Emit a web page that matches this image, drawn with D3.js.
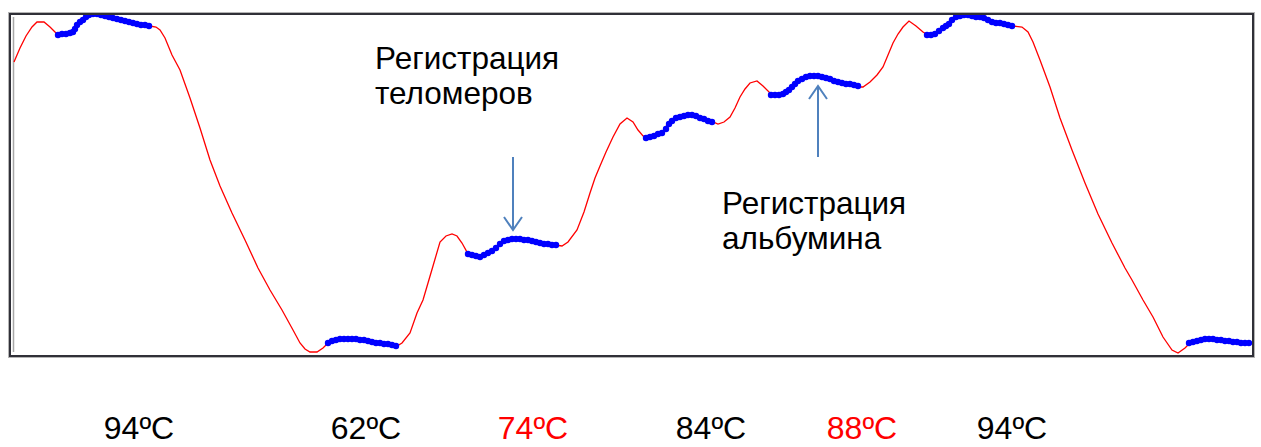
<!DOCTYPE html>
<html>
<head>
<meta charset="utf-8">
<script src="https://cdn.jsdelivr.net/npm/d3@7"></script>
<style>
  html, body { margin: 0; padding: 0; background: #fff; }
  svg { display: block; }
  text { font-family: "Liberation Sans", Arial, sans-serif; }
</style>
</head>
<body>
<svg id="chart" width="1261" height="447"></svg>
<script>
// Temperature trace of the cycle (time in s, temperature in °C)
const traceTime = [
  1, 7, 13, 19, 24, 31, 37, 45, 49, 54,
  59, 62, 64, 67, 70, 73, 77, 82, 87, 92,
  97, 102, 107, 112, 117, 122, 127, 132, 137, 143,
  147, 152, 159, 167, 177, 187, 197, 207, 219, 232,
  245, 257, 269, 280, 287, 292, 297, 304, 310, 315,
  320, 327, 337, 347, 354, 364, 374, 384, 389, 397,
  404, 410, 415, 420, 427, 433, 439, 444, 449, 454,
  457, 462, 467, 475, 480, 484, 492, 500, 510, 520,
  530, 542, 549, 555, 564, 571, 577, 582, 587, 593,
  600, 607, 614, 620, 625, 630, 635, 644, 650, 655,
  664, 674, 682, 690, 700, 705, 711, 717, 722, 727,
  732, 737, 744, 750, 757, 762, 769, 775, 784, 794,
  804, 814, 822, 834, 845, 850, 857, 864, 870, 875,
  880, 885, 890, 896, 903, 910, 915, 920, 925, 929,
  934, 940, 947, 954, 960, 967, 974, 980, 989, 995,
  1000, 1009, 1015, 1020, 1027, 1037, 1047, 1059, 1072, 1085,
  1099, 1112, 1119, 1130, 1140, 1150, 1159, 1165, 1172, 1177,
  1184, 1190, 1197, 1204, 1212, 1220, 1227, 1237
];
const traceTemp = [
  89.8, 91.2, 92.4, 93.3, 93.8, 93.8, 93.3, 92.5, 92.6, 92.7,
  92.8, 93.0, 93.5, 93.8, 94.1, 94.3, 94.5, 94.6, 94.5, 94.4,
  94.2, 94.1, 93.9, 93.8, 93.7, 93.6, 93.5, 93.4, 93.4, 93.3,
  93.0, 92.2, 90.5, 89.0, 86.2, 83.2, 80.0, 77.4, 74.7, 72.0,
  69.2, 67.0, 65.0, 63.0, 61.7, 61.1, 60.8, 60.8, 61.2, 61.7,
  61.9, 62.1, 62.1, 62.0, 61.8, 61.7, 61.6, 61.4, 61.7, 62.7,
  64.7, 66.0, 67.7, 69.4, 71.8, 72.4, 72.6, 72.4, 71.7, 70.8,
  70.5, 70.4, 70.3, 70.7, 71.0, 71.3, 71.9, 72.1, 72.0, 71.8,
  71.6, 71.5, 71.4, 71.8, 73.0, 74.8, 76.7, 78.2, 79.4, 80.8,
  82.3, 83.6, 84.2, 83.8, 83.0, 82.4, 82.3, 82.7, 82.8, 83.7,
  84.4, 84.6, 84.4, 84.0, 83.8, 83.6, 83.8, 84.3, 85.2, 86.3,
  87.1, 87.7, 87.9, 87.4, 86.7, 86.5, 86.6, 87.0, 88.0, 88.4,
  88.4, 88.2, 87.8, 87.6, 87.3, 87.3, 87.8, 88.5, 89.3, 90.5,
  91.7, 92.6, 93.3, 93.9, 93.4, 92.8, 92.5, 92.5, 92.8, 93.2,
  93.5, 94.2, 94.4, 94.5, 94.3, 94.3, 94.0, 93.7, 93.7, 93.5,
  93.4, 93.3, 92.8, 91.8, 90.0, 87.3, 84.2, 81.0, 77.7, 74.6,
  71.7, 69.2, 68.0, 66.0, 64.3, 62.3, 61.0, 60.7, 61.2, 61.7,
  61.8, 62.1, 62.1, 62.0, 61.9, 61.8, 61.7, 61.6
];

// Fluorescence acquisition points during each hold
const acq1Time = [45, 49, 53, 57, 60, 62, 64, 67, 70, 73, 76, 80, 84, 88, 92, 96, 100, 104, 108, 112, 116, 120, 124, 128, 132, 136];
const acq1Temp = [92.5, 92.6, 92.6, 92.7, 92.8, 93.1, 93.5, 93.8, 94.0, 94.3, 94.5, 94.6, 94.6, 94.5, 94.4, 94.3, 94.2, 94.1, 94.0, 93.9, 93.8, 93.7, 93.6, 93.5, 93.5, 93.4];
const acq2Time = [315, 319, 323, 327, 331, 335, 339, 343, 347, 351, 355, 359, 363, 367, 371, 375, 379, 383];
const acq2Temp = [61.7, 61.9, 62.0, 62.1, 62.1, 62.1, 62.1, 62.1, 62.0, 62.0, 61.9, 61.8, 61.7, 61.7, 61.6, 61.6, 61.5, 61.4];
const acq3Time = [455, 459, 463, 467, 471, 475, 479, 483, 487, 491, 495, 499, 503, 507, 511, 515, 519, 523, 527, 531, 535, 539, 543];
const acq3Temp = [70.6, 70.5, 70.4, 70.3, 70.5, 70.7, 70.9, 71.2, 71.6, 71.9, 72.0, 72.1, 72.1, 72.1, 72.0, 72.0, 71.9, 71.8, 71.7, 71.6, 71.6, 71.5, 71.5];
const acq4Time = [633, 637, 641, 645, 649, 653, 656, 659, 663, 667, 671, 675, 679, 683, 687, 691, 695, 699];
const acq4Temp = [82.2, 82.3, 82.4, 82.6, 82.7, 83.1, 83.6, 83.9, 84.2, 84.3, 84.4, 84.5, 84.5, 84.4, 84.2, 84.1, 83.9, 83.8];
const acq5Time = [758, 762, 766, 770, 773, 776, 779, 782, 785, 789, 793, 797, 801, 805, 809, 813, 817, 821, 825, 829, 833, 837, 841, 845];
const acq5Temp = [86.5, 86.5, 86.5, 86.6, 86.8, 87.0, 87.3, 87.6, 87.9, 88.1, 88.3, 88.4, 88.4, 88.4, 88.3, 88.2, 88.1, 87.9, 87.8, 87.7, 87.6, 87.6, 87.5, 87.4];
const acq6Time = [914, 918, 922, 926, 930, 933, 936, 939, 943, 947, 951, 955, 959, 963, 967, 971, 975, 979, 983, 987, 991, 995, 999];
const acq6Temp = [92.5, 92.5, 92.6, 92.9, 93.2, 93.4, 93.6, 94.0, 94.3, 94.4, 94.5, 94.5, 94.4, 94.3, 94.3, 94.2, 94.0, 93.8, 93.7, 93.7, 93.6, 93.5, 93.4];
const acq7Time = [1176, 1180, 1184, 1188, 1192, 1196, 1200, 1204, 1208, 1212, 1216, 1220, 1224, 1228, 1232, 1236];
const acq7Temp = [61.7, 61.8, 61.9, 62.0, 62.1, 62.1, 62.1, 62.0, 62.0, 61.9, 61.9, 61.8, 61.8, 61.7, 61.7, 61.7];

// Step temperature labels under the plot
const stepLabels = ["94ºC", "62ºC", "74ºC", "84ºC", "88ºC", "94ºC"];
const stepCentres = [139, 366, 533, 711, 862, 1012];
const stepColours = ["#000", "#000", "#ff0000", "#000", "#ff0000", "#000"];

// Annotated holds
const noteLines = [["Регистрация", "теломеров"], ["Регистрация", "альбумина"]];
const noteTime = [500, 805];

const svg = d3.select("#chart");

const x = d3.scaleLinear().domain([0, 1240]).range([13, 1253]);
const y = d3.scaleLinear().domain([96, 60]).range([0, 360]);

// Plot frame (sunken panel look)
const frame = svg.append("g");
frame.append("rect").attr("x", 8.5).attr("y", 12.5).attr("width", 1246).attr("height", 345)
  .attr("fill", "#fff").attr("stroke", "#b4b4b4").attr("stroke-width", 1);
frame.append("rect").attr("x", 10).attr("y", 14).attr("width", 1243).attr("height", 342)
  .attr("fill", "none").attr("stroke", "#303038").attr("stroke-width", 2);
frame.append("line").attr("x1", 13.5).attr("x2", 13.5).attr("y1", 17).attr("y2", 352)
  .attr("stroke", "#a8a8a8").attr("stroke-width", 1.5);

const plot = svg.append("g");
plot.append("clipPath").attr("id", "clip")
  .append("rect").attr("x", 11).attr("y", 15).attr("width", 1241).attr("height", 340);

const trace = traceTime.map((t, i) => [t, traceTemp[i]]);
plot.append("path")
  .attr("clip-path", "url(#clip)")
  .attr("d", d3.line().x(d => x(d[0])).y(d => y(d[1]))(trace))
  .attr("fill", "none").attr("stroke", "#ff0000").attr("stroke-width", 1.3);

const acq = [
  [acq1Time, acq1Temp], [acq2Time, acq2Temp], [acq3Time, acq3Temp], [acq4Time, acq4Temp],
  [acq5Time, acq5Temp], [acq6Time, acq6Temp], [acq7Time, acq7Temp]
].flatMap(([ts, vs]) => ts.map((t, i) => [t, vs[i]]));

plot.append("g").attr("clip-path", "url(#clip)")
  .selectAll("circle").data(acq).join("circle")
  .attr("cx", d => x(d[0])).attr("cy", d => y(d[1])).attr("r", 3.2)
  .attr("fill", "#0000ff");

// Annotations with arrows
const arrowColour = "#4f81bd";
function arrow(x0, y0, y1) {
  const dir = Math.sign(y1 - y0);
  const g = svg.append("g").attr("stroke", arrowColour).attr("stroke-width", 2).attr("fill", "none");
  g.append("line").attr("x1", x0).attr("x2", x0).attr("y1", y0).attr("y2", y1);
  g.append("path").attr("d", `M${x0 - 9},${y1 - dir * 13}L${x0},${y1}L${x0 + 9},${y1 - dir * 13}`);
}
arrow(x(noteTime[0]), 157, 230);
arrow(x(noteTime[1]), 157, 86);

const notePos = [[375, 69], [722, 214]];
noteLines.forEach((lines, k) => {
  const t = svg.append("text").attr("x", notePos[k][0]).attr("y", notePos[k][1])
    .attr("font-size", 31.5).attr("fill", "#000");
  lines.forEach((s, i) => t.append("tspan").attr("x", notePos[k][0]).attr("dy", i ? 35 : 0).text(s));
});

svg.selectAll("text.step").data(stepLabels).join("text")
  .attr("class", "step")
  .attr("x", (d, i) => stepCentres[i]).attr("y", 439)
  .attr("text-anchor", "middle").attr("font-size", 32)
  .attr("fill", (d, i) => stepColours[i])
  .text(d => d);
</script>
</body>
</html>
